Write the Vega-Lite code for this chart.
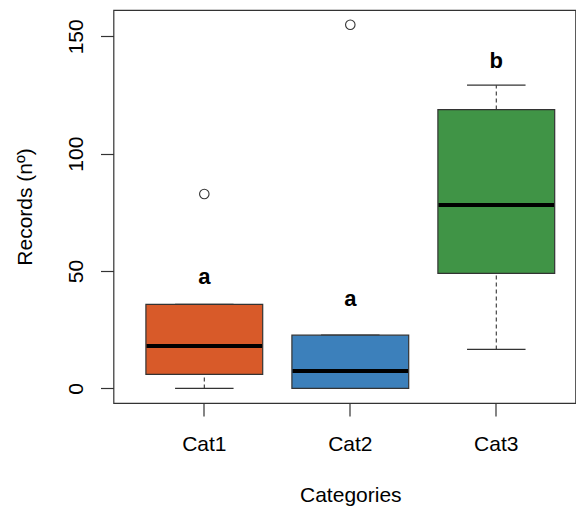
{
  "$schema": "https://vega.github.io/schema/vega-lite/v6.json",
  "width": 462,
  "height": 393,
  "autosize": "none",
  "padding": {"left": 113.5, "top": 10, "right": 0, "bottom": 107},
  "background": "white",
  "config": {
    "view": {"stroke": "#333333", "strokeWidth": 1.2},
    "font": "Liberation Sans"
  },
  "datasets": {
    "boxes": [
      {"Category": "Cat1", "lower": 0, "q1": 6.0, "median": 18.1, "q3": 35.8, "upper": 35.8, "letter": "a", "letterY": 47.5},
      {"Category": "Cat2", "lower": 0, "q1": 0, "median": 7.4, "q3": 22.7, "upper": 22.7, "letter": "a", "letterY": 38.3},
      {"Category": "Cat3", "lower": 16.6, "q1": 49.0, "median": 78.1, "q3": 118.8, "upper": 129.2, "letter": "b", "letterY": 139.5}
    ],
    "outliers": [
      {"Category": "Cat1", "value": 82.8},
      {"Category": "Cat2", "value": 154.9}
    ]
  },
  "encoding": {
    "x": {
      "field": "Category", "type": "nominal",
      "scale": {"domain": ["Cat1", "Cat2", "Cat3"], "type": "band", "range": [0, 473.6], "paddingInner": 0, "paddingOuter": 0.122, "align": 0.5},
      "axis": {"title": "Categories", "labelAngle": 0, "domain": false, "tickSize": 13, "tickColor": "#333333", "tickWidth": 1.2,
        "labelFontSize": 21, "labelColor": "#000000", "labelPadding": 17, "labelFont": "Liberation Sans",
        "titleFontSize": 21, "titleFont": "Liberation Sans", "titleFontWeight": "normal", "titleColor": "#000000", "titlePadding": 30}
    }
  },
  "layer": [
    {
      "data": {"name": "boxes"},
      "mark": {"type": "rule", "strokeDash": [4, 3], "color": "#333333", "strokeWidth": 1.1},
      "encoding": {
        "y": {"field": "lower", "type": "quantitative",
          "scale": {"domain": [-6.2, 161.2], "nice": false, "zero": false},
          "axis": {"title": "Records (nº)", "values": [0, 50, 100, 150], "grid": false, "domain": false, "tickSize": 13, "tickColor": "#333333", "tickWidth": 1.2,
            "labelAngle": -90, "labelAlign": "center", "labelBaseline": "alphabetic", "labelFontSize": 21, "labelFont": "Liberation Sans", "labelColor": "#000000", "labelPadding": 18.5,
            "titleFontSize": 21, "titleFont": "Liberation Sans", "titleFontWeight": "normal", "titleColor": "#000000", "titlePadding": 30}},
        "y2": {"field": "q1"}
      }
    },
    {
      "data": {"name": "boxes"},
      "mark": {"type": "rule", "strokeDash": [4, 3], "color": "#333333", "strokeWidth": 1.1},
      "encoding": {
        "y": {"field": "q3", "type": "quantitative"},
        "y2": {"field": "upper"}
      }
    },
    {
      "data": {"name": "boxes"},
      "mark": {"type": "tick", "orient": "horizontal", "size": 58.5, "thickness": 1.2, "color": "#333333", "opacity": 1},
      "encoding": {
        "y": {"field": "lower", "type": "quantitative"}
      }
    },
    {
      "data": {"name": "boxes"},
      "mark": {"type": "tick", "orient": "horizontal", "size": 58.5, "thickness": 1.2, "color": "#333333", "opacity": 1},
      "encoding": {
        "y": {"field": "upper", "type": "quantitative"}
      }
    },
    {
      "data": {"name": "boxes"},
      "mark": {"type": "bar", "width": {"band": 0.8}, "stroke": "#333333", "strokeWidth": 1.2, "opacity": 1},
      "encoding": {
        "y": {"field": "q1", "type": "quantitative"},
        "y2": {"field": "q3"},
        "fill": {"field": "Category", "type": "nominal", "legend": null,
          "scale": {"domain": ["Cat1", "Cat2", "Cat3"], "range": ["#D85A29", "#3C80BB", "#409446"]}}
      }
    },
    {
      "data": {"name": "boxes"},
      "mark": {"type": "tick", "orient": "horizontal", "size": 115.5, "thickness": 4, "color": "#000000", "opacity": 1},
      "encoding": {
        "y": {"field": "median", "type": "quantitative"}
      }
    },
    {
      "data": {"name": "outliers"},
      "mark": {"type": "point", "shape": "circle", "filled": false, "size": 90, "stroke": "#333333", "strokeWidth": 1.1, "opacity": 1},
      "encoding": {
        "y": {"field": "value", "type": "quantitative"}
      }
    },
    {
      "data": {"name": "boxes"},
      "mark": {"type": "text", "fontWeight": "bold", "fontSize": 22, "font": "Liberation Sans", "baseline": "middle", "align": "center", "color": "#000000"},
      "encoding": {
        "y": {"field": "letterY", "type": "quantitative"},
        "text": {"field": "letter"}
      }
    }
  ]
}
